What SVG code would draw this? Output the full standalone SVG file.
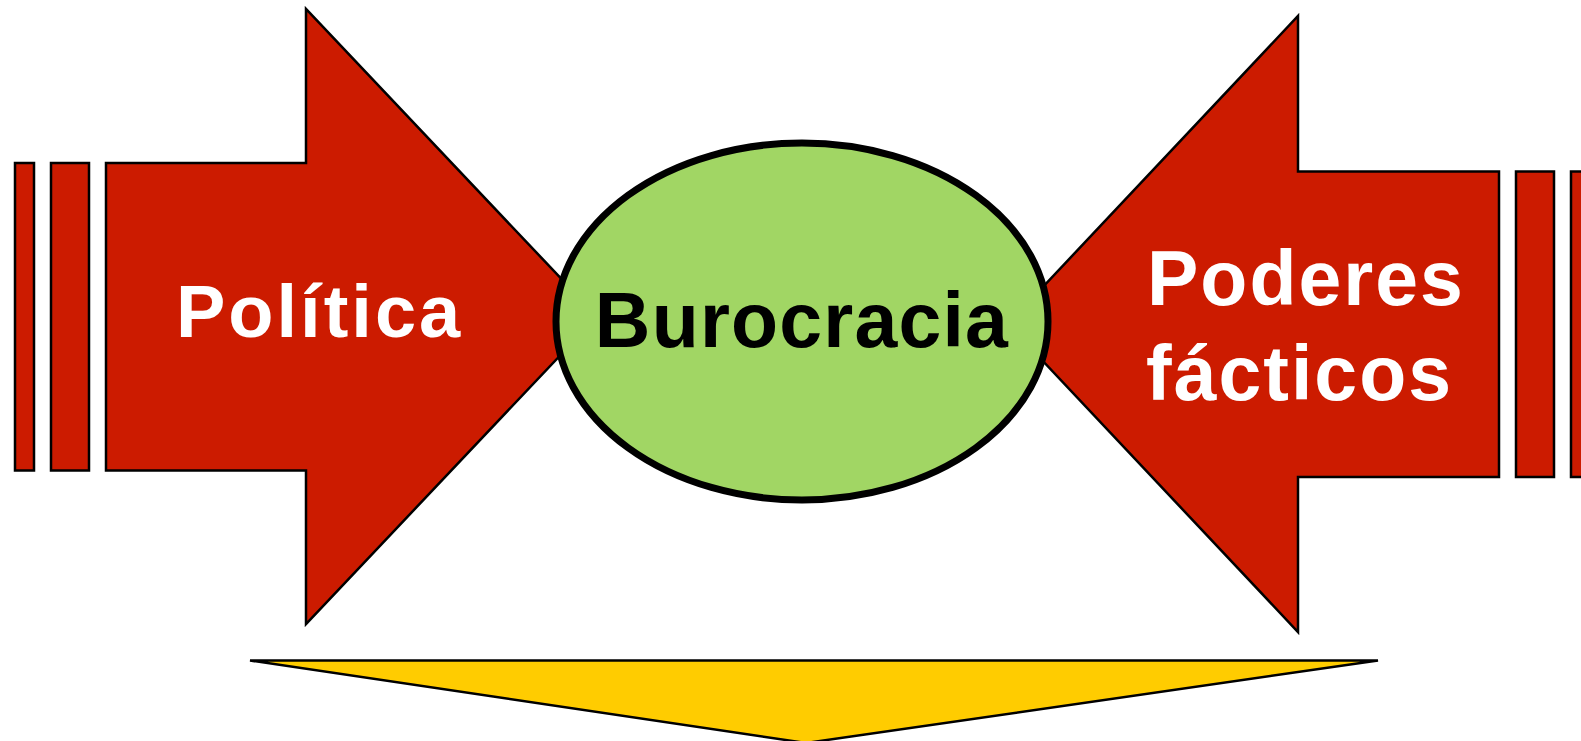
<svg xmlns="http://www.w3.org/2000/svg" width="1581" height="741" viewBox="0 0 1581 741">
  <style>
    .red { fill: #CC1B00; stroke: #000; stroke-width: 2.5; stroke-linejoin: miter; }
    .lbl { font-family: "Liberation Sans", Arial, sans-serif; font-weight: bold; }
    .white { fill: #FFFFFF; }
  </style>
  <rect width="1581" height="741" fill="#FFFFFF"/>
  <g id="politica">
    <rect class="red" x="15" y="163" width="19" height="307.5"/>
    <rect class="red" x="51" y="163" width="38" height="307.5"/>
    <polygon class="red" points="106,163 306,163 306,9 597,316.5 306,624 306,470.5 106,470.5"/>
    <text class="lbl white" x="176" y="337" font-size="74" letter-spacing="3">Política</text>
  </g>
  <g id="poderes">
    <rect class="red" x="1516" y="171.5" width="38" height="305.5"/>
    <rect class="red" x="1571" y="171.5" width="30" height="305.5"/>
    <polygon class="red" points="1499,171.5 1298,171.5 1298,16 1008,324 1298,632 1298,477 1499,477"/>
    <text class="lbl white" font-size="77" letter-spacing="2">
      <tspan x="1147" y="305">Poderes</tspan>
      <tspan x="1146" y="400">fácticos</tspan>
    </text>
  </g>
  <g id="connectors"></g>
  <g id="burocracia">
    <ellipse cx="802" cy="321.5" rx="246" ry="178.5" fill="#A1D664" stroke="#000" stroke-width="7"/>
    <text class="lbl" x="802" y="346.5" font-size="77" letter-spacing="1.2" text-anchor="middle" fill="#000">Burocracia</text>
  </g>
  <g id="resultado">
    <polygon points="250,660.5 1378,660.5 806,743" fill="#FFCC00" stroke="#000" stroke-width="2.5" stroke-linejoin="miter"/>
  </g>
</svg>
